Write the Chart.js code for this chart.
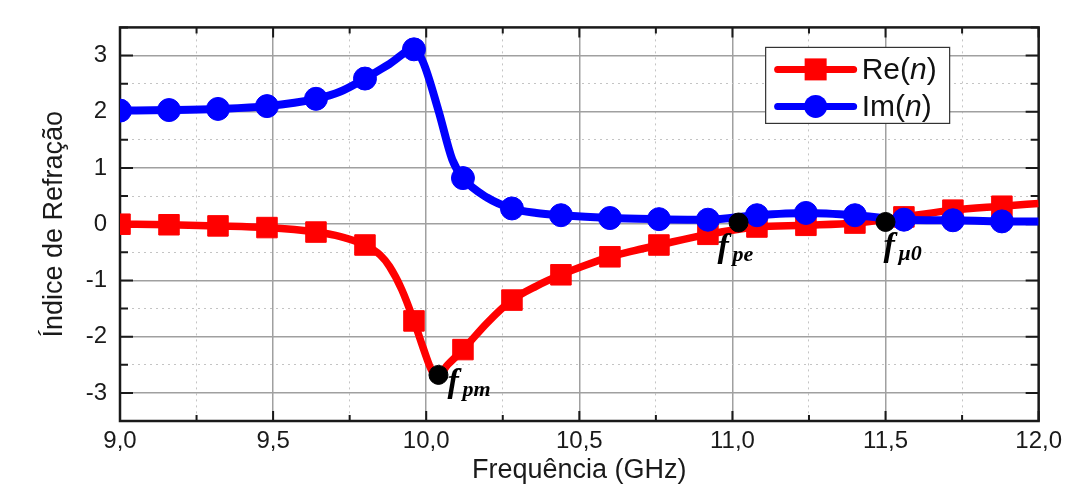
<!DOCTYPE html>
<html>
<head>
<meta charset="utf-8">
<script src="https://cdn.jsdelivr.net/npm/chart.js@4.4.1/dist/chart.umd.min.js"></script>
<style>
  html, body { margin: 0; padding: 0; background: #fff; }
</style>
</head>
<body>
<canvas id="chart" width="1068" height="493"></canvas>
<script>
// frequencies where the symbols sit (GHz)
const markerFreq = [9.00, 9.16, 9.32, 9.48, 9.64, 9.80, 9.96, 10.12, 10.28, 10.44, 10.60, 10.76, 10.92, 11.08, 11.24, 11.40, 11.56, 11.72, 11.88];

// Re(n) curve
const reFreq = [9.00, 9.16, 9.32, 9.48, 9.64, 9.72, 9.80, 9.85, 9.88, 9.92, 9.96, 9.99, 10.02, 10.04, 10.07, 10.12, 10.20, 10.28, 10.36, 10.44, 10.52, 10.60, 10.68, 10.76, 10.92, 11.08, 11.24, 11.40, 11.56, 11.72, 11.88, 12.00];
const reValues = [0.00, -0.01, -0.03, -0.06, -0.14, -0.22, -0.37, -0.55, -0.75, -1.16, -1.72, -2.20, -2.62, -2.68, -2.50, -2.23, -1.75, -1.35, -1.10, -0.90, -0.73, -0.58, -0.47, -0.37, -0.18, -0.05, -0.02, 0.02, 0.13, 0.25, 0.32, 0.37];

// Im(n) curve
const imFreq = [9.00, 9.16, 9.32, 9.48, 9.64, 9.72, 9.80, 9.88, 9.96, 9.99, 10.04, 10.085, 10.12, 10.20, 10.28, 10.36, 10.44, 10.60, 10.76, 10.92, 11.08, 11.24, 11.40, 11.56, 11.72, 11.88, 12.00];
const imValues = [2.02, 2.03, 2.05, 2.10, 2.23, 2.36, 2.59, 2.85, 3.11, 2.88, 2.02, 1.15, 0.82, 0.47, 0.28, 0.20, 0.16, 0.11, 0.09, 0.08, 0.16, 0.20, 0.16, 0.08, 0.07, 0.05, 0.05];

// special frequencies (black dots)
const specialFreq = [10.04, 11.02, 11.50];
const specialValues = [-2.68, 0.03, 0.04];
const specialSubs = ['pm', 'pe', 'μ0'];

const seriesNames = ['Re(n)', 'Im(n)'];

const SANS = "'Liberation Sans', Arial, sans-serif";
const SERIF = "'Liberation Serif', 'Times New Roman', serif";

const isMarker = v => markerFreq.some(m => Math.abs(m - v) < 1e-6);
const isMult = (v, s) => Math.abs(v / s - Math.round(v / s)) < 1e-6;
const toPts = (xs, ys) => xs.map((x, i) => ({ x: x, y: ys[i] }));

const frameTicks = {
  id: 'frameTicks',
  beforeDatasetsDraw(chart) {
    const { ctx, chartArea: a, scales: { x, y } } = chart;
    ctx.save();
    ctx.strokeStyle = '#1a1a1a';
    ctx.lineWidth = 2;
    ctx.beginPath();
    x.ticks.forEach(t => {
      const px = x.getPixelForValue(t.value);
      const len = isMult(t.value, 0.5) ? 10 : 6;
      ctx.moveTo(px, a.bottom); ctx.lineTo(px, a.bottom - len);
      ctx.moveTo(px, a.top); ctx.lineTo(px, a.top + len);
    });
    y.ticks.forEach(t => {
      const py = y.getPixelForValue(t.value);
      const len = isMult(t.value, 1) ? 13 : 8;
      ctx.moveTo(a.left, py); ctx.lineTo(a.left + len, py);
      ctx.moveTo(a.right, py); ctx.lineTo(a.right - len, py);
    });
    ctx.stroke();
    ctx.lineWidth = 2.5;
    ctx.strokeRect(a.left, a.top, a.right - a.left, a.bottom - a.top);
    ctx.restore();
  },
  afterDatasetsDraw(chart) {
    const { ctx, scales: { x, y } } = chart;
    ctx.save();
    ctx.fillStyle = '#000';
    ctx.textBaseline = 'alphabetic';
    const offs = [[9, 17], [-21, 34], [-2, 34]];
    specialFreq.forEach((f, i) => {
      const px = x.getPixelForValue(f) + offs[i][0];
      const py = y.getPixelForValue(specialValues[i]) + offs[i][1];
      ctx.font = 'bold italic 34px ' + SERIF;
      ctx.fillText('f', px, py);
      ctx.font = 'bold italic 22px ' + SERIF;
      ctx.fillText(specialSubs[i], px + 15, py + 4);
    });
    ctx.restore();
  },
  afterDraw(chart) {
    const { ctx, chartArea: a } = chart;
    const bx = a.right - 273, by = a.top + 20, bw = 184, bh = 76;
    ctx.save();
    ctx.fillStyle = '#fff';
    ctx.fillRect(bx, by, bw, bh);
    ctx.strokeStyle = '#333';
    ctx.lineWidth = 1.2;
    ctx.strokeRect(bx, by, bw, bh);
    const colors = ['#ff0000', '#0000ff'];
    seriesNames.forEach((name, i) => {
      const cy = by + 22 + i * 37;
      ctx.strokeStyle = colors[i];
      ctx.lineWidth = 7;
      ctx.lineCap = 'round';
      ctx.beginPath();
      ctx.moveTo(bx + 12, cy); ctx.lineTo(bx + 88, cy);
      ctx.stroke();
      ctx.fillStyle = colors[i];
      const mx = bx + 50;
      if (i === 0) {
        ctx.fillRect(mx - 11, cy - 11, 22, 22);
      } else {
        ctx.beginPath(); ctx.arc(mx, cy, 11.5, 0, Math.PI * 2); ctx.fill();
      }
      // text with italic n
      ctx.fillStyle = '#111';
      ctx.textBaseline = 'middle';
      const parts = [name.slice(0, 3), 'n', ')'];
      let tx = bx + 96;
      parts.forEach((p, k) => {
        ctx.font = (k === 1 ? 'italic ' : '') + '30px ' + SANS;
        ctx.fillText(p, tx, cy + 1);
        tx += ctx.measureText(p).width;
      });
    });
    ctx.restore();
  }
};

new Chart(document.getElementById('chart'), {
  type: 'line',
  data: {
    datasets: [
      {
        label: seriesNames[0],
        data: toPts(reFreq, reValues),
        borderColor: '#ff0000',
        backgroundColor: '#ff0000',
        borderWidth: 7.5,
        cubicInterpolationMode: 'monotone',
        pointStyle: 'rect',
        pointRadius: c => isMarker(c.raw.x) ? 14.5 : 0,
        pointBorderWidth: 1,
        order: 3
      },
      {
        label: seriesNames[1],
        data: toPts(imFreq, imValues),
        borderColor: '#0000ff',
        backgroundColor: '#0000ff',
        borderWidth: 8,
        cubicInterpolationMode: 'monotone',
        pointStyle: 'circle',
        pointRadius: c => isMarker(c.raw.x) ? 11.5 : 0,
        pointBorderWidth: 1,
        order: 2
      },
      {
        label: 'special',
        data: toPts(specialFreq, specialValues),
        showLine: false,
        backgroundColor: '#000',
        borderColor: '#000',
        pointStyle: 'circle',
        pointRadius: 9.5,
        pointBorderWidth: 1,
        order: 1
      }
    ]
  },
  options: {
    responsive: false,
    animation: false,
    devicePixelRatio: 1,
    layout: { padding: { left: 0, right: 27, top: 17, bottom: 0 } },
    plugins: { legend: { display: false }, tooltip: { enabled: false } },
    scales: {
      x: {
        type: 'linear',
        min: 9, max: 12,
        afterFit: s => { s.height = 72; },
        ticks: {
          stepSize: 0.25,
          autoSkip: false,
          maxRotation: 0,
          padding: 6,
          color: '#1a1a1a',
          font: { family: SANS, size: 24 },
          callback: v => isMult(v, 0.5) ? v.toFixed(1).replace('.', ',') : ''
        },
        grid: {
          drawTicks: false,
          color: c => isMult(c.tick.value, 0.5) ? '#a0a0a0' : '#c4c4c4',
          lineWidth: c => isMult(c.tick.value, 0.5) ? 1.5 : 1
        },
        border: { display: false, dash: c => isMult(c.tick.value, 0.5) ? [] : [2, 4] },
        title: {
          display: true,
          text: 'Frequência (GHz)',
          color: '#1a1a1a',
          font: { family: SANS, size: 27 },
          padding: { top: 0, bottom: 6 }
        }
      },
      y: {
        min: -3.5, max: 3.5,
        afterFit: s => { s.width = 120; },
        ticks: {
          stepSize: 0.5,
          autoSkip: false,
          padding: 13,
          color: '#1a1a1a',
          font: { family: SANS, size: 24 },
          callback: v => isMult(v, 1) ? String(v) : ''
        },
        grid: {
          drawTicks: false,
          color: c => isMult(c.tick.value, 1) ? '#a0a0a0' : '#c4c4c4',
          lineWidth: c => isMult(c.tick.value, 1) ? 1.5 : 1
        },
        border: { display: false, dash: c => isMult(c.tick.value, 1) ? [] : [2, 4] },
        title: {
          display: true,
          text: 'Índice de Refração',
          color: '#1a1a1a',
          font: { family: SANS, size: 27 },
          padding: { top: 38, bottom: 0 }
        }
      }
    }
  },
  plugins: [frameTicks]
});
</script>
</body>
</html>
